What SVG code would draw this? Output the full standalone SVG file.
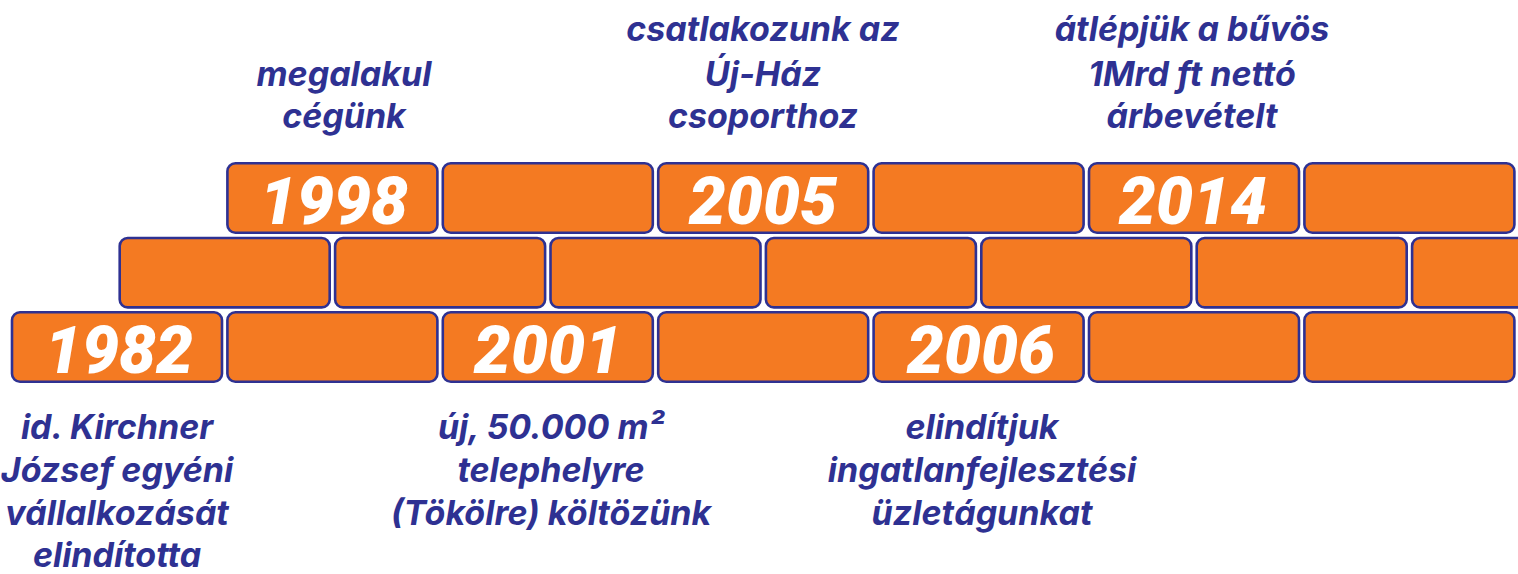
<svg xmlns="http://www.w3.org/2000/svg" width="1518" height="574" viewBox="0 0 1518 574">
<style>
.brick{fill:#F47A22;stroke:#2E3192;stroke-width:2.6}
.year{font-family:Roboto,"Liberation Sans",sans-serif;font-style:italic;font-weight:900;font-size:66px;fill:#FFFFFF;text-anchor:middle}
.cap{font-family:Inter,Roboto,"Liberation Sans",sans-serif;font-style:italic;font-weight:700;font-size:34px;fill:#2E3192;text-anchor:middle}
</style>
<rect width="1518" height="574" fill="#FFFFFF"/>
<g id="row-top">
<g id="b-1998"><rect class="brick" x="227.4" y="163.3" width="210" height="69.4" rx="8"/><text class="year" x="334" y="224">1998</text></g>
<g id="b-t2"><rect class="brick" x="442.8" y="163.3" width="210" height="69.4" rx="8"/></g>
<g id="b-2005"><rect class="brick" x="658.2" y="163.3" width="210" height="69.4" rx="8"/><text class="year" x="763" y="224">2005</text></g>
<g id="b-t4"><rect class="brick" x="873.6" y="163.3" width="210" height="69.4" rx="8"/></g>
<g id="b-2014"><rect class="brick" x="1089" y="163.3" width="210" height="69.4" rx="8"/><text class="year" x="1193" y="224">2014</text></g>
<g id="b-t6"><rect class="brick" x="1304.4" y="163.3" width="210" height="69.4" rx="8"/></g>
</g>
<g id="row-middle">
<g id="b-m1"><rect class="brick" x="119.7" y="238" width="210" height="69.4" rx="8"/></g>
<g id="b-m2"><rect class="brick" x="335.1" y="238" width="210" height="69.4" rx="8"/></g>
<g id="b-m3"><rect class="brick" x="550.5" y="238" width="210" height="69.4" rx="8"/></g>
<g id="b-m4"><rect class="brick" x="765.9" y="238" width="210" height="69.4" rx="8"/></g>
<g id="b-m5"><rect class="brick" x="981.3" y="238" width="210" height="69.4" rx="8"/></g>
<g id="b-m6"><rect class="brick" x="1196.7" y="238" width="210" height="69.4" rx="8"/></g>
<g id="b-m7"><rect class="brick" x="1412.1" y="238" width="210" height="69.4" rx="8"/></g>
</g>
<g id="row-bottom">
<g id="b-1982"><rect class="brick" x="12" y="312.3" width="210" height="69.4" rx="8"/><text class="year" x="119" y="373">1982</text></g>
<g id="b-b2"><rect class="brick" x="227.4" y="312.3" width="210" height="69.4" rx="8"/></g>
<g id="b-2001"><rect class="brick" x="442.8" y="312.3" width="210" height="69.4" rx="8"/><text class="year" x="548" y="373">2001</text></g>
<g id="b-b4"><rect class="brick" x="658.2" y="312.3" width="210" height="69.4" rx="8"/></g>
<g id="b-2006"><rect class="brick" x="873.6" y="312.3" width="210" height="69.4" rx="8"/><text class="year" x="981" y="373">2006</text></g>
<g id="b-b6"><rect class="brick" x="1089" y="312.3" width="210" height="69.4" rx="8"/></g>
<g id="b-b7"><rect class="brick" x="1304.4" y="312.3" width="210" height="69.4" rx="8"/></g>
</g>
<g id="cap-1998"><text class="cap" x="344" y="85.5">megalakul</text><text class="cap" x="344" y="128">cégünk</text></g>
<g id="cap-2005"><text class="cap" x="763" y="41">csatlakozunk az</text><text class="cap" x="763" y="85.5">Új-Ház</text><text class="cap" x="763" y="128">csoporthoz</text></g>
<g id="cap-2014"><text class="cap" x="1192" y="41">átlépjük a bűvös</text><text class="cap" x="1192" y="85.5">1Mrd ft nettó</text><text class="cap" x="1192" y="128">árbevételt</text></g>
<g id="cap-1982"><text class="cap" x="117" y="439">id. Kirchner</text><text class="cap" x="117" y="482">József egyéni</text><text class="cap" x="117" y="524.5">vállalkozását</text><text class="cap" x="117" y="567">elindította</text></g>
<g id="cap-2001"><text class="cap" x="551" y="439">új, 50.000 m²</text><text class="cap" x="551" y="482">telephelyre</text><text class="cap" x="551" y="524.5">(Tökölre) költözünk</text></g>
<g id="cap-2006"><text class="cap" x="982" y="439">elindítjuk</text><text class="cap" x="982" y="482">ingatlanfejlesztési</text><text class="cap" x="982" y="524.5">üzletágunkat</text></g>
</svg>
